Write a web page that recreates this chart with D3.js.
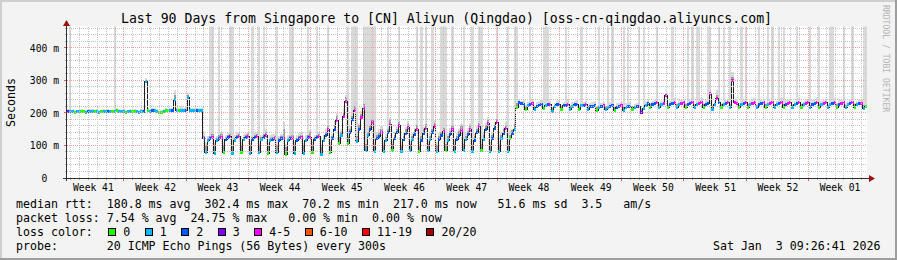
<!DOCTYPE html>
<html><head><meta charset="utf-8">
<script src="https://cdn.jsdelivr.net/npm/d3@7/dist/d3.min.js"></script>
<style>
html,body{margin:0;padding:0;background:#f3f3f3;overflow:hidden}
svg{display:block}
text{font-family:"DejaVu Sans Mono",monospace;white-space:pre;fill:#000}
</style></head><body>
<svg id="chart" width="897" height="260"></svg>
<script>
const titleText = "Last 90 Days from Singapore to [CN] Aliyun (Qingdao) [oss-cn-qingdao.aliyuncs.com]";
const yAxisTitle = "Seconds";
const watermark = "RRDTOOL / TOBI OETIKER";
const yTicks = [0, 100, 200, 300, 400];
const yTickLabels = ["  0  ", "100 m", "200 m", "300 m", "400 m"];
const weekLabels = ["Week 41","Week 42","Week 43","Week 44","Week 45","Week 46","Week 47","Week 48","Week 49","Week 50","Week 51","Week 52","Week 01"];
const firstWeekBoundary = 6.41;   // days after the start of the 90-day window
const spanDays = 90;
const samplesPerDay = 4;

// median RTT (ms), 4 samples per day
const medianRtt = [
204,205,204,203, 204,204,205,204, 203,204,204,205, 204,204,203,204,
205,204,204,204, 204,204,208,205, 204,204,203,204, 204,204,205,204,
203,204,204,296, 207,206,207,208, 206,200,201,206, 208,207,208,208,
240,209,208,209, 208,209,249,209, 209,209,208,209, 209,120,77,115,
122,125,76,116, 123,126,78,117, 124,127,75,116, 125,127,77,118,
124,127,76,117, 125,127,78,118, 126,130,75,116, 119,121,77,114,
121,123,72,115, 122,123,76,116, 122,124,74,115, 124,126,77,117,
125,127,72,116, 132,150,79,120,
150,178,107,130, 190,235,107,140, 180,209,112,150, 185,215,86,130,
150,170,83,120, 128,140,81,115, 140,165,84,120, 140,160,82,118,
138,155,84,117, 135,150,81,116, 138,153,85,118, 140,157,82,117,
130,143,84,116, 133,148,83,117, 132,147,86,118, 133,148,82,116,
140,158,84,119, 150,168,81,120, 152,170,83,121, 138,152,83,120,
138,150,218,232,
230,227,212,222, 225,228,210,221, 224,227,213,223, 225,226,204,220,
226,227,212,222, 224,226,211,221, 225,227,212,222, 223,225,210,220,
221,223,209,218, 220,222,210,217, 221,223,208,218, 220,222,209,218,
219,221,210,217, 219,220,201,215, 224,230,218,226,
229,231,217,226, 229,255,216,226, 230,232,218,227, 228,231,217,225,
229,232,216,226, 230,233,218,227, 229,261,212,226, 246,232,217,227,
229,231,218,300, 232,230,216,226, 229,231,217,226, 230,232,216,227,
229,231,217,226, 229,232,216,226, 230,232,217,227, 229,231,216,226,
229,232,217,226, 230,231,216,227, 229,232,217,226, 229,231,216,226,
230,232,217,227, 229,231,216,226, 229,232,217,226, 228,229,215,219
];

// inner (darker) smoke upper bound (ms)
const smokeMid = [
207,208,207,206, 207,207,208,207, 206,207,207,208, 207,207,206,207,
208,207,207,207, 207,207,211,208, 207,207,206,207, 207,207,208,207,
206,207,207,302, 211,210,211,212, 210,204,205,210, 212,211,212,212,
255,213,212,213, 212,213,255,213, 213,213,212,213, 213,128,100,122,
130,134,100,124, 131,135,102,125, 132,136,99,124, 133,136,101,126,
132,136,100,125, 133,136,102,126, 134,140,99,124, 127,130,101,122,
129,150,96,123, 130,132,100,124, 130,133,98,123, 132,140,101,125,
133,136,96,124, 142,162,103,128,
162,190,125,140, 202,248,125,152, 192,222,130,162, 197,228,106,142,
162,182,103,132, 138,150,101,127, 152,177,104,132, 152,172,102,130,
150,167,104,129, 147,162,101,128, 150,165,105,130, 152,169,102,129,
142,155,104,128, 145,160,103,129, 144,159,106,130, 145,160,102,128,
152,170,104,131, 162,180,101,132, 164,182,103,133, 150,164,103,132,
148,165,230,238,
234,231,222,226, 229,232,220,225, 228,231,223,227, 229,230,214,224,
230,231,222,226, 228,230,221,225, 229,231,222,226, 227,229,220,224,
225,227,219,222, 224,226,220,221, 225,227,218,222, 224,226,219,222,
223,225,220,221, 223,224,211,219, 228,234,228,230,
233,235,227,230, 233,259,226,230, 234,236,228,231, 232,235,227,229,
233,236,226,230, 234,237,228,231, 233,265,222,230, 255,236,227,231,
233,235,228,312, 236,234,226,230, 233,235,227,230, 234,236,226,231,
233,235,227,230, 233,236,226,230, 234,236,227,231, 233,235,226,230,
233,236,227,230, 234,235,226,231, 233,236,227,230, 233,235,226,230,
234,236,227,231, 233,235,226,230, 233,236,227,230, 232,233,225,223
];

// outer smoke (max ping, ms); values above the chart top are clipped
const smokeTop = [
212,520,210,209, 210,209,211,210, 209,210,212,211, 210,211,209,210,
212,210,211,210, 210,520,214,211, 210,211,209,210, 211,210,212,210,
209,211,212,307, 215,212,214,214, 212,207,208,213, 215,213,214,215,
270,216,214,220, 215,218,262,216, 216,215,214,216, 215,140,110,128,
520,520,110,130, 520,140,112,132, 138,520,520,131, 140,142,110,134,
139,141,109,520, 140,142,520,133, 520,150,108,132, 134,136,520,130,
136,173,106,131, 520,520,110,132, 137,140,108,131, 520,148,111,133,
520,142,106,132, 150,520,112,136,
175,200,135,150, 215,255,520,160, 520,520,520,170, 205,520,520,520,
520,520,520,140, 150,160,112,135, 520,185,115,140, 160,520,112,138,
158,175,114,137, 155,520,111,520, 158,520,116,138, 520,177,112,137,
520,520,520,136, 153,520,113,137, 152,167,520,138, 153,168,520,136,
160,520,520,139, 170,188,111,140, 172,520,113,141, 158,172,520,145,
150,520,520,242,
238,240,225,235, 520,242,223,233, 236,240,520,520, 520,238,218,232,
238,240,226,234, 520,239,224,233, 237,240,225,520, 235,238,223,232,
233,236,222,520, 232,235,223,520, 233,520,221,230, 232,235,520,230,
520,234,223,229, 231,520,215,520, 236,243,232,238,
241,520,230,238, 241,262,229,238, 520,245,231,239, 240,244,230,520,
241,520,229,520, 520,246,231,239, 520,520,226,238, 270,520,230,520,
241,244,520,325, 244,243,229,520, 241,520,230,238, 242,245,229,520,
241,244,230,520, 241,520,229,238, 520,245,520,239, 241,244,229,238,
520,245,230,238, 242,244,520,239, 241,245,520,238, 241,244,229,520,
520,245,230,239, 241,520,229,238, 241,520,230,238, 240,242,520,520
];

// lost pings out of 20 per sample
const lossCount = [
3,1,1,0, 1,1,0,0, 1,2,1,1, 0,1,1,0,
1,1,2,1, 0,1,0,1, 1,1,0,1, 1,0,0,1,
1,1,2,1, 0,1,2,1, 1,0,0,1, 0,0,1,2,
1,1,0,1, 1,2,1,1, 1,1,2,1, 1,3,1,1,
2,4,1,1, 2,4,0,2, 2,3,1,1, 2,4,0,1,
2,4,1,2, 2,4,1,1, 2,4,0,1, 2,4,1,2,
2,4,0,1, 2,4,1,2, 2,4,1,1, 2,4,0,2,
2,4,1,1, 2,4,0,2,
2,4,0,1, 4,4,0,2, 2,4,1,2, 4,4,1,1,
2,4,1,2, 2,4,1,1, 2,4,0,2, 2,4,1,2,
2,4,1,1, 2,4,0,2, 2,4,1,1, 2,4,1,2,
2,4,0,1, 2,4,1,2, 2,4,1,1, 2,4,1,2,
2,4,0,1, 2,4,1,2, 2,4,1,1, 2,4,1,0,
2,1,0,2,
2,2,0,1, 2,4,1,2, 2,2,0,1, 2,4,1,1,
2,2,0,2, 2,4,1,1, 2,2,0,1, 2,4,1,2,
2,2,0,1, 2,4,1,1, 2,2,0,2, 2,4,1,1,
2,2,0,1, 2,3,3,1, 1,2,0,2,
2,4,1,1, 4,4,0,2, 2,4,1,1, 4,4,0,2,
2,4,1,1, 4,4,0,2, 2,4,1,1, 4,2,0,1,
2,4,1,4, 4,4,0,1, 2,4,0,1, 4,4,1,2,
2,4,0,1, 4,4,1,1, 2,4,0,2, 4,4,1,1,
2,4,0,1, 4,4,1,2, 2,4,0,1, 4,4,1,1,
2,4,0,2, 4,4,1,1, 2,4,0,1, 2,4,1,0
];

const lossLabels = ["0","1","2","3","4-5","6-10","11-19","20/20"];
const lossColors = ["#26ff00","#00b8ff","#0059ff","#7e00ff","#ff00ff","#ff5500","#ff0000","#a00000"];

const legendRtt  = "median rtt:  180.8 ms avg  302.4 ms max  70.2 ms min  217.0 ms now   51.6 ms sd  3.5   am/s";
const legendLoss = "packet loss: 7.54 % avg  24.75 % max   0.00 % min  0.00 % now";
const legendColorTitle = "loss color:";
const legendProbe = "probe:       20 ICMP Echo Pings (56 Bytes) every 300s";
const dateText = "Sat Jan  3 09:26:41 2026";

// ---------------- drawing ----------------
const W = 897, H = 260, L = 67, R = 867, T = 26.5, B = 178;
const x = d3.scaleLinear().domain([0, spanDays]).range([L, R]);
const y = d3.scaleLinear().domain([0, 466]).range([B, T]);
const svg = d3.select("#chart");

svg.append("rect").attr("width", W).attr("height", H).attr("fill", "#f3f3f3");
svg.append("rect").attr("x",0).attr("y",0).attr("width",W).attr("height",2).attr("fill","#cfcfcf");
svg.append("rect").attr("x",0).attr("y",0).attr("width",2).attr("height",H).attr("fill","#cfcfcf");
svg.append("rect").attr("x",0).attr("y",H-2).attr("width",W).attr("height",2).attr("fill","#9e9e9e");
svg.append("rect").attr("x",W-2).attr("y",0).attr("width",2).attr("height",H).attr("fill","#9e9e9e");
svg.append("rect").attr("x",L).attr("y",T).attr("width",R-L).attr("height",B-T).attr("fill","#ffffff");

svg.append("defs").append("clipPath").attr("id","plotclip")
  .append("rect").attr("x",L).attr("y",T).attr("width",R-L).attr("height",B-T);

const n = medianRtt.length;
const pts = d3.range(n + 1).map(i => {
  const j = Math.min(i, n - 1);
  return {t: i / samplesPerDay, m: medianRtt[j], top: smokeTop[j], mid: smokeMid[j]};
});

const plot = svg.append("g").attr("clip-path","url(#plotclip)");
plot.append("path").datum(pts)
  .attr("d", d3.area().curve(d3.curveStepAfter).x(d => x(d.t)).y0(d => y(d.m)).y1(d => y(d.top)))
  .attr("fill", "#dadada").attr("shape-rendering","crispEdges");
plot.append("path").datum(pts)
  .attr("d", d3.area().curve(d3.curveStepAfter).x(d => x(d.t)).y0(d => y(d.m)).y1(d => y(d.mid)))
  .attr("fill", "#9c9c9c").attr("shape-rendering","crispEdges");

// grid
const grid = svg.append("g").attr("shape-rendering","crispEdges").attr("stroke-dasharray","1,1").attr("stroke-width",1);
const minorY = d3.range(20, 466, 20).filter(v => v % 100 !== 0);
grid.selectAll(".gy").data(minorY).join("line")
  .attr("x1", L).attr("x2", R)
  .attr("y1", d => Math.floor(y(d)) + 0.5).attr("y2", d => Math.floor(y(d)) + 0.5)
  .attr("stroke", "#c4c4c4");
const weekBounds = d3.range(firstWeekBoundary, spanDays, 7);
const dayLines = d3.range(firstWeekBoundary % 1, spanDays, 1)
  .filter(t => !weekBounds.some(w => Math.abs(w - t) < 0.01));
grid.selectAll(".gx").data(dayLines).join("line")
  .attr("x1", d => Math.floor(x(d)) + 0.5).attr("x2", d => Math.floor(x(d)) + 0.5)
  .attr("y1", T).attr("y2", B)
  .attr("stroke", "#c4c4c4");
grid.selectAll(".my").data(yTicks.filter(v => v > 0)).join("line")
  .attr("x1", L).attr("x2", R)
  .attr("y1", d => Math.floor(y(d)) + 0.5).attr("y2", d => Math.floor(y(d)) + 0.5)
  .attr("stroke", "#f0a0a0");
grid.selectAll(".mx").data(weekBounds).join("line")
  .attr("x1", d => Math.floor(x(d)) + 0.5).attr("x2", d => Math.floor(x(d)) + 0.5)
  .attr("y1", T).attr("y2", B)
  .attr("stroke", "#f0a0a0");

// median line + loss colored bands
plot.append("path").datum(pts)
  .attr("d", d3.line().curve(d3.curveStepAfter).x(d => x(d.t)).y(d => Math.floor(y(d.m)) + 0.5))
  .attr("fill","none").attr("stroke","#202020").attr("stroke-width",1).attr("shape-rendering","crispEdges");

const lossClass = v => v <= 3 ? v : v <= 5 ? 4 : v <= 10 ? 5 : v <= 19 ? 6 : 7;
plot.selectAll(".band").data(medianRtt).join("rect")
  .attr("x", (d, i) => x(i / samplesPerDay))
  .attr("width", (d, i) => x((i + 1) / samplesPerDay) - x(i / samplesPerDay))
  .attr("y", d => y(d) - 1.5).attr("height", 3)
  .attr("fill", (d, i) => lossColors[lossClass(lossCount[i])])
  .attr("shape-rendering","crispEdges");

// axis ticks outside canvas
const ticks = svg.append("g").attr("shape-rendering","crispEdges");
ticks.selectAll(".ty").data(minorY).join("line")
  .attr("x1", L - 2).attr("x2", L).attr("y1", d => Math.floor(y(d)) + 0.5).attr("y2", d => Math.floor(y(d)) + 0.5)
  .attr("stroke", "#b0b0b0");
ticks.selectAll(".tyM").data(yTicks).join("line")
  .attr("x1", L - 3).attr("x2", L).attr("y1", d => Math.floor(y(d)) + 0.5).attr("y2", d => Math.floor(y(d)) + 0.5)
  .attr("stroke", "#e06060");
ticks.selectAll(".tx").data(dayLines).join("line")
  .attr("x1", d => Math.floor(x(d)) + 0.5).attr("x2", d => Math.floor(x(d)) + 0.5)
  .attr("y1", B).attr("y2", B + 2).attr("stroke", "#b0b0b0");
ticks.selectAll(".txM").data(weekBounds).join("line")
  .attr("x1", d => Math.floor(x(d)) + 0.5).attr("x2", d => Math.floor(x(d)) + 0.5)
  .attr("y1", B).attr("y2", B + 3).attr("stroke", "#e06060");

// axis lines and arrows
svg.append("line").attr("x1", 66.5).attr("x2", 66.5).attr("y1", B + 3).attr("y2", 24)
  .attr("stroke", "#303030").attr("shape-rendering","crispEdges");
svg.append("line").attr("x1", 63).attr("x2", 870).attr("y1", B + 0.5).attr("y2", B + 0.5)
  .attr("stroke", "#303030").attr("shape-rendering","crispEdges");
svg.append("polygon").attr("points", "66.5,20 63,26 70,26").attr("fill", "#a01010");
svg.append("polygon").attr("points", "875,178.5 869,175 869,182").attr("fill", "#a01010");

// axis labels via d3 axes
const yAxisG = svg.append("g").attr("transform", `translate(${L},0)`)
  .call(d3.axisLeft(y).tickValues(yTicks).tickFormat((d, i) => yTickLabels[i]).tickSize(0).tickPadding(8));
yAxisG.select(".domain").remove();
yAxisG.attr("font-size", 9.7);
yAxisG.selectAll("text").attr("dy", "0.34em");

const weekCenters = weekLabels.map((w, i) => firstWeekBoundary - 3.5 + 7 * i);
const xAxisG = svg.append("g").attr("transform", `translate(0,${B})`)
  .call(d3.axisBottom(x).tickValues(weekCenters).tickFormat((d, i) => weekLabels[i]).tickSize(0).tickPadding(6));
xAxisG.select(".domain").remove();
xAxisG.attr("font-size", 9.7);

// titles
svg.append("text").attr("x", 446.5).attr("y", 23).attr("text-anchor","middle")
  .attr("font-size", 13.2).text(titleText);
svg.append("text").attr("transform","translate(15,102.5) rotate(-90)").attr("text-anchor","middle")
  .attr("font-size", 11.6).text(yAxisTitle);
svg.append("text").attr("transform","translate(883,5) rotate(90)").attr("text-anchor","start")
  .attr("font-size", 8.1).style("fill","#b4b4b4").text(watermark);

// legend
const lg = svg.append("g").attr("font-size", 11.6);
lg.append("text").attr("x", 16).attr("y", 207.5).text(legendRtt);
lg.append("text").attr("x", 16).attr("y", 221.5).text(legendLoss);
lg.append("text").attr("x", 16).attr("y", 235.5).text(legendColorTitle);
lg.append("text").attr("x", 16).attr("y", 249.5).text(legendProbe);
lg.append("text").attr("x", 880.5).attr("y", 249.5).attr("text-anchor","end").text(dateText);

const charW = 6.98;
let labelX = 123.3;
const legendItems = lossLabels.map((lab, i) => {
  const item = {lab, color: lossColors[i], labelX};
  labelX += lab.length * charW + 29.5;
  return item;
});
lg.selectAll(".box").data(legendItems).join("rect")
  .attr("x", d => Math.round(d.labelX - 15) + 0.5).attr("y", 228.5).attr("width", 7).attr("height", 7)
  .attr("fill", d => d.color).attr("stroke", "#000").attr("stroke-width", 1).attr("shape-rendering","crispEdges");
lg.selectAll(".lab").data(legendItems).join("text")
  .attr("x", d => d.labelX).attr("y", 235.5).text(d => d.lab);
</script>
</body></html>
